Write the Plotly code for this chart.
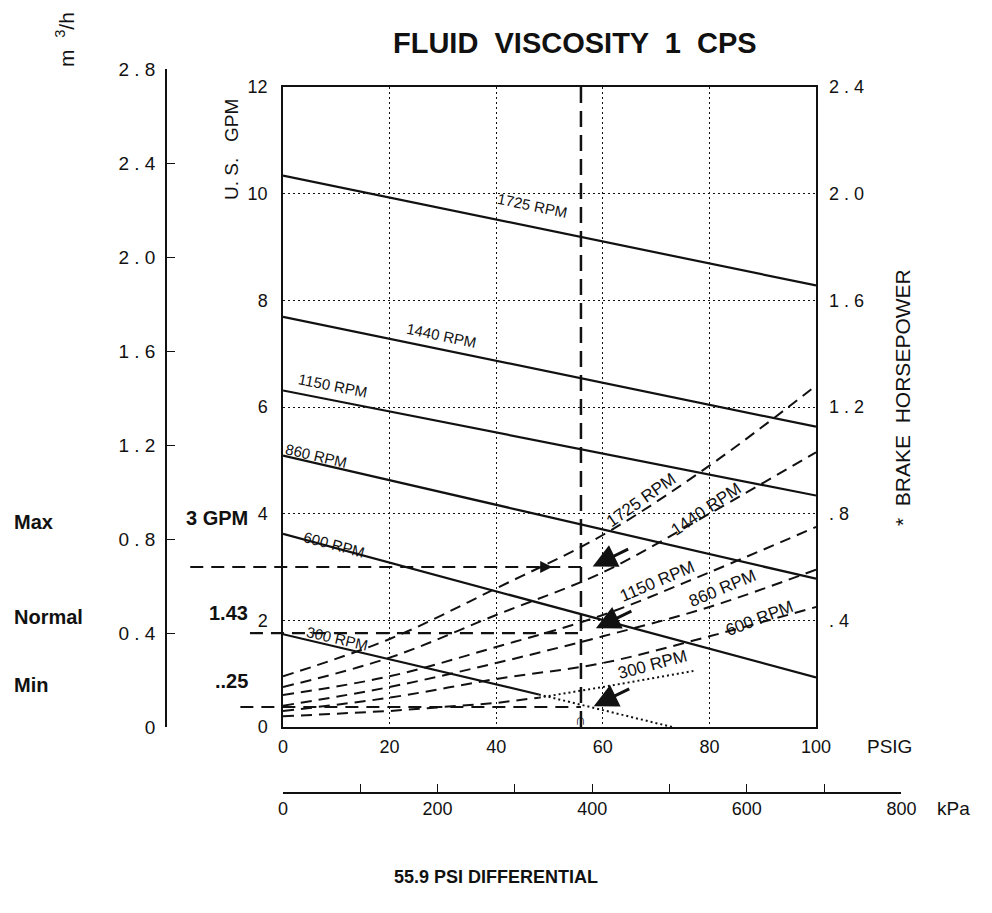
import plotly.graph_objects as go

# the page body adds an 8px margin, so the figure is drawn 8px smaller and
# every reference pixel position is shifted by that amount
PAGE_W, PAGE_H = 992, 913
OFF = 8
W, H = PAGE_W - OFF, PAGE_H - OFF
INK = "#111111"
FONT = "Liberation Sans, Arial, sans-serif"


def px(x):
    return (x - OFF) / W


def py(y):
    return 1 - (y - OFF) / H


# plot box edges in page pixels (left, right, top, bottom)
BOX = (283, 816, 87, 727)
M3H_PER_GPM = 0.22712
KPA_PER_PSI = 6.894757

# capacity lines, U.S. GPM vs PSIG
psi_ends = [0, 100]
flow_1725 = [10.34, 8.28]
flow_1440 = [7.69, 5.63]
flow_1150 = [6.31, 4.34]
flow_860 = [5.09, 2.78]
flow_600 = [3.62, 0.93]
flow_300_psi = [0, 48]
flow_300 = [1.74, 0.61]
flow_300_tail_psi = [48, 73]
flow_300_tail = [0.61, 0.0]

# brake horsepower curves
bhp_psi = [0, 20, 40, 60, 80, 100]
bhp_1725 = [0.19, 0.33, 0.52, 0.72, 0.98, 1.28]
bhp_1440 = [0.15, 0.26, 0.42, 0.58, 0.80, 1.03]
bhp_1150 = [0.12, 0.19, 0.30, 0.42, 0.58, 0.75]
bhp_860 = [0.08, 0.15, 0.24, 0.34, 0.45, 0.59]
bhp_600 = [0.06, 0.11, 0.18, 0.24, 0.34, 0.45]
bhp_300_psi = [0, 20, 40, 48]
bhp_300 = [0.04, 0.06, 0.09, 0.11]
bhp_300_tail_psi = [48, 60, 77]
bhp_300_tail = [0.11, 0.15, 0.21]

# operating point
diff_psi = 55.9
duty_labels = ["Max", "Normal", "Min"]
duty_values = ["3 GPM", "1.43", "..25"]
duty_levels = [3.0, 1.76, 0.375]
duty_start_psi = [-17.4, -6.2, -8.0]
arrow_psi = [58.1, 58.7, 58.3]
arrow_gpm = [3.01, 1.85, 0.39]

gpm_ticks = [0, 2, 4, 6, 8, 10, 12]
psi_ticks = [0, 20, 40, 60, 80, 100]
bhp_ticks = [0.4, 0.8, 1.2, 1.6, 2.0, 2.4]
bhp_text = [". 4", ". 8", "1 . 2", "1 . 6", "2 . 0", "2 . 4"]
m3h_ticks = [0, 0.4, 0.8, 1.2, 1.6, 2.0, 2.4, 2.8]
m3h_text = ["0", "0 . 4", "0 . 8", "1 . 2", "1 . 6", "2 . 0", "2 . 4", "2 . 8"]
kpa_ticks = [0, 100, 200, 300, 400, 500, 600, 700, 800]
kpa_text = ["0", "", "200", "", "400", "", "600", "", "800"]

# label text, (psi, gpm) anchor, angle
flow_labels = [
    ("1725 RPM", 46.9, 9.78, 11.7),
    ("1440 RPM", 29.8, 7.34, 11.7),
    ("1150 RPM", 9.4, 6.41, 11.2),
    ("860 RPM", 6.2, 5.09, 13.0),
    ("600 RPM", 9.6, 3.43, 15.0),
    ("300 RPM", 10.3, 1.66, 13.0),
]
bhp_labels = [
    ("1725 RPM", 67.1, 4.25, -35),
    ("1440 RPM", 79.3, 4.08, -34),
    ("1150 RPM", 70.2, 2.72, -23),
    ("860 RPM", 82.4, 2.60, -23),
    ("600 RPM", 89.4, 2.04, -21),
    ("300 RPM", 69.4, 1.18, -15),
]

xd = [px(BOX[0]), px(BOX[1])]
yd = [py(BOX[3]), py(BOX[2])]
y3_top = yd[0] + (yd[1] - yd[0]) * (2.8 / M3H_PER_GPM) / 12
x2_end = xd[0] + (xd[1] - xd[0]) * (800 / KPA_PER_PSI) / 100

fig = go.Figure()

solid = dict(color=INK, width=2.2)
for ys in [flow_1725, flow_1440, flow_1150, flow_860, flow_600]:
    fig.add_trace(go.Scatter(x=psi_ends, y=ys, mode="lines", line=solid))
fig.add_trace(go.Scatter(x=flow_300_psi, y=flow_300, mode="lines", line=solid))
fig.add_trace(go.Scatter(x=flow_300_tail_psi, y=flow_300_tail, mode="lines",
                         line=dict(color=INK, width=2, dash="2px,3px")))

dashed = dict(color=INK, width=2, dash="11px,7px")
for ys in [bhp_1725, bhp_1440, bhp_1150, bhp_860, bhp_600]:
    fig.add_trace(go.Scatter(x=bhp_psi, y=ys, mode="lines", line=dashed,
                             line_shape="spline", yaxis="y2"))
fig.add_trace(go.Scatter(x=bhp_300_psi, y=bhp_300, mode="lines", line=dashed,
                         yaxis="y2"))
fig.add_trace(go.Scatter(x=bhp_300_tail_psi, y=bhp_300_tail, mode="lines",
                         line=dict(color=INK, width=2, dash="2px,3px"), yaxis="y2"))

# invisible trace so the m3/h and kPa axes get drawn
fig.add_trace(go.Scatter(x=[0], y=[0], xaxis="x2", yaxis="y3", mode="markers",
                         marker=dict(opacity=0), hoverinfo="skip"))

shapes = [dict(type="line", xref="x", yref="y domain", x0=diff_psi, x1=diff_psi,
               y0=0, y1=12.1 / 12, line=dict(color=INK, width=2.5, dash="16px,8px"))]
for lvl, x0 in zip(duty_levels, duty_start_psi):
    shapes.append(dict(type="line", xref="x domain", yref="y", x0=x0 / 100,
                       x1=diff_psi / 100, y0=lvl, y1=lvl,
                       line=dict(color=INK, width=2.2, dash="13px,8px")))

ann = []
for txt, x, y, ang in flow_labels:
    ann.append(dict(x=x, y=y, xref="x", yref="y", text=txt, textangle=ang,
                    showarrow=False, font=dict(size=15, color=INK, family=FONT)))
for txt, x, y, ang in bhp_labels:
    ann.append(dict(x=x, y=y, xref="x", yref="y", text=txt, textangle=ang,
                    showarrow=False, font=dict(size=17, color=INK, family=FONT)))
for x, y in zip(arrow_psi, arrow_gpm):
    ann.append(dict(x=x, y=y, xref="x", yref="y", ax=37, ay=-18, text="",
                    showarrow=True, arrowhead=2, arrowsize=1.6, arrowwidth=3,
                    arrowcolor=INK))
# small arrowhead riding on the Max line, and the mark at the foot of the PSI line
ann.append(dict(x=50.5, y=duty_levels[0], xref="x", yref="y", ax=-14, ay=0, text="",
                showarrow=True, arrowhead=2, arrowsize=1.2, arrowwidth=2,
                arrowcolor=INK))
ann.append(dict(x=diff_psi, y=0.14, xref="x", yref="y", text="∩", showarrow=False,
                font=dict(size=15, color=INK, family=FONT, weight="bold")))


def note(text, x, y, size=18, bold=False, angle=0, xanchor="center"):
    return dict(x=px(x), y=py(y), xref="paper", yref="paper", text=text,
                textangle=angle, xanchor=xanchor, yanchor="middle", showarrow=False,
                font=dict(size=size, color=INK, family=FONT,
                          weight="bold" if bold else "normal"))


label_y = [522, 617, 685]
for name, val, ly in zip(duty_labels, duty_values, label_y):
    ann.append(note(name, 12, ly, size=20, bold=True, xanchor="left"))
    ann.append(note(val, 250, ly - 4, size=20, bold=True, xanchor="right"))

ann += [
    note("FLUID  VISCOSITY  1  CPS", 575, 43, size=29, bold=True),
    note("55.9 PSI DIFFERENTIAL", 496, 877, size=18, bold=True),
    note("U. S.   GPM", 232, 150, size=19, angle=-90),
    note("m  <sup>3</sup>/h", 65, 40, size=21, angle=-90),
    note("*  BRAKE  HORSEPOWER", 902, 398, size=21, angle=-90),
    note("PSIG", 865, 746, size=19, xanchor="left"),
    note("kPa", 935, 808, size=19, xanchor="left"),
]

tick_font = dict(size=18, color=INK, family=FONT)
grid = dict(showgrid=True, gridcolor=INK, gridwidth=1, griddash="2px,3px")

fig.update_layout(
    width=W, height=H,
    margin=dict(l=0, r=0, t=0, b=0, autoexpand=False),
    paper_bgcolor="white", plot_bgcolor="rgba(0,0,0,0)",
    showlegend=False,
    shapes=shapes,
    annotations=ann,
    xaxis=dict(domain=xd, range=[0, 100], tickvals=psi_ticks, ticks="",
               ticklabelstandoff=3, tickfont=tick_font, showline=True, mirror=True,
               linecolor=INK, linewidth=1.5, zeroline=False, anchor="y", **grid),
    yaxis=dict(domain=yd, range=[0, 12], tickvals=gpm_ticks, ticks="",
               ticklabelstandoff=10, tickfont=tick_font, showline=True, mirror=True,
               linecolor=INK, linewidth=1.5, zeroline=False, anchor="x", **grid),
    yaxis2=dict(overlaying="y", side="right", range=[0, 2.4], tickvals=bhp_ticks,
                ticktext=bhp_text, ticks="", ticklabelstandoff=12,
                tickfont=tick_font, showgrid=False, showline=False,
                zeroline=False, anchor="x"),
    yaxis3=dict(domain=[yd[0], y3_top], range=[0, 2.8], anchor="free",
                position=px(166), side="left", tickvals=m3h_ticks,
                ticktext=m3h_text, ticks="inside", ticklen=8, tickcolor=INK,
                ticklabelstandoff=6, tickfont=dict(size=19, color=INK, family=FONT),
                showline=True, linecolor=INK, linewidth=1.5, showgrid=False,
                zeroline=False),
    xaxis2=dict(domain=[xd[0], x2_end], range=[0, 800], anchor="free",
                position=py(793), side="bottom", tickvals=kpa_ticks,
                ticktext=kpa_text, ticks="inside", ticklen=8, tickcolor=INK,
                ticklabelstandoff=0, tickfont=tick_font, showline=True,
                linecolor=INK, linewidth=1.5, showgrid=False, zeroline=False),
)

fig.write_html("out.html")
